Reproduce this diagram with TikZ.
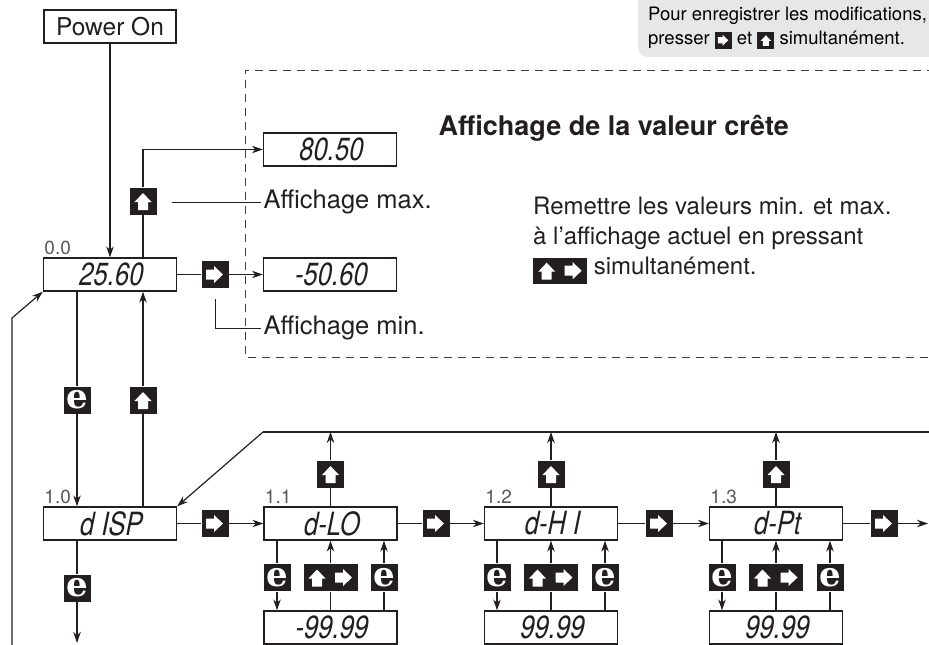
\documentclass[tikz,border=0pt]{standalone}
\usepackage{fontspec}
\setmainfont{TeX Gyre Heros}
\newfontfamily\segfont[FakeSlant=0.2,FakeStretch=0.8]{TeX Gyre Heros}
\newfontfamily\keyfont{DejaVu Serif}
\usetikzlibrary{arrows.meta, positioning, calc}

\definecolor{ink}{HTML}{231F20}
\definecolor{notegray}{HTML}{E6E7E8}

% white glyphs drawn inside the black keys (start point, x offset)
\newcommand{\upglyph}[2]{\fill[white] #1 ++(#2,0pt) ++(0pt,8pt) -- ++(8.5pt,-9pt) -- ++(-3.5pt,0pt) -- ++(0pt,-8pt) -- ++(-10pt,0pt) -- ++(0pt,8pt) -- ++(-3.5pt,0pt) -- cycle;}
\newcommand{\rightglyph}[2]{\fill[white] #1 ++(#2,0pt) ++(8pt,0pt) -- ++(-9pt,8.5pt) -- ++(0pt,-3.5pt) -- ++(-8pt,0pt) -- ++(0pt,-10pt) -- ++(8pt,0pt) -- ++(0pt,-3.5pt) -- cycle;}
% keys inside running text
\newcommand{\inkeyup}{\tikz[baseline={(0pt,-4.5pt)}]{\fill[ink] (-8.5pt,-8.5pt) rectangle (8.5pt,8.5pt); \begin{scope}[scale=0.62]\upglyph{(0pt,0pt)}{0pt}\end{scope}}}
\newcommand{\inkeyright}{\tikz[baseline={(0pt,-4.5pt)}]{\fill[ink] (-8.5pt,-8.5pt) rectangle (8.5pt,8.5pt); \begin{scope}[scale=0.62]\rightglyph{(0pt,0pt)}{0pt}\end{scope}}}
\newcommand{\inkeyboth}{\tikz[baseline={(0pt,-4pt)}]{\fill[ink] (-27pt,-13pt) rectangle (27pt,13pt); \upglyph{(0pt,0pt)}{-13.5pt}\rightglyph{(0pt,0pt)}{13.5pt}}}

\tikzset{
    key/.style={fill=ink, minimum width=27pt, minimum height=27pt, inner sep=0pt},
    keyup/.style={key, path picture={\upglyph{(path picture bounding box.center)}{0pt}}},
    keyright/.style={key, path picture={\rightglyph{(path picture bounding box.center)}{0pt}}},
    keyboth/.style={key, minimum width=54pt, path picture={%
        \upglyph{(path picture bounding box.center)}{-13.5pt}%
        \rightglyph{(path picture bounding box.center)}{13.5pt}}},
    keye/.style={key, text=white, font=\keyfont\bfseries\fontsize{34}{34}\selectfont},
}

\begin{document}
\begin{tikzpicture}[
    x=1pt, y=-1pt, color=ink, line width=1.2pt,
    disp/.style={draw, line width=1.3pt, minimum width=133pt, minimum height=33pt, inner sep=0pt, font=\segfont\fontsize{32}{32}\selectfont},
    lbl/.style={font=\fontsize{19}{19}\selectfont, text=black!65, inner sep=1pt},
    txt/.style={font=\fontsize{24}{30}\selectfont, inner sep=2pt},
    arrow/.style={-{Stealth[length=11pt, width=7.5pt]}},
    leader/.style={line width=0.9pt}
]
    \useasboundingbox (0,0) rectangle (929,645);
    \clip (0,0) rectangle (929,645);

    % Note in the corner
    \fill[notegray, rounded corners=10pt] (638,-20) rectangle (950,57);
    \node[anchor=west, align=left, inner sep=0pt, text=black, font=\fontsize{18.5}{24}\selectfont] (note) at (648,28) {Pour enregistrer les modifications,\\presser \inkeyright\ et \inkeyup\ simultanément.};

    % Peak value frame
    \draw[line width=1pt, dash pattern=on 8pt off 6pt, black!75] (935,70) -- (245,70) -- (245,357) -- (935,357);
    \node[anchor=west, inner sep=0pt, font=\bfseries\fontsize{27}{27}\selectfont] (title) at (438,128) {Affichage de la valeur crête};
    \node[txt, anchor=north west, align=left] (reset) at (531,195) {Remettre les valeurs min. et max.\\à l’affichage actuel en pressant\\\inkeyboth\ simultanément.};

    % Power on and main display
    \node[draw, line width=1.3pt, minimum width=132pt, minimum height=33pt, font=\fontsize{24.5}{24.5}\selectfont] (pwr) at (110,26.5) {Power On};
    \node[disp] (v00) at (110,274.5) {25.60};
    \node[lbl, above right=1pt and 0pt of v00.north west] (l00) {0.0};

    % Max / min
    \node[disp] (vmax) at (330,149.5) {80.50};
    \node[disp] (vmin) at (330,274.5) {-50.60};
    \node[keyup] (kmax) at (143,201) {};
    \node[keyright] (kmin) at (215,274.5) {};
    \node[txt, anchor=west, font=\fontsize{25.5}{30}\selectfont] (tmax) at (261,202) {Affichage max.};
    \node[txt, anchor=west, font=\fontsize{25.5}{30}\selectfont] (tmin) at (261,328) {Affichage min.};
    \coordinate (lmax) at (172,202);
    \coordinate (lmin) at (215,299);

    % Menu 1.0
    \node[disp] (v10) at (110,523.5) {d ISP};
    \node[lbl, above right=1pt and 0pt of v10.north west] (l10) {1.0};
    \node[keye] (e10) at (77,400) {e};
    \node[keyup] (u10) at (143,400) {};
    \node[keye] (e11) at (77,588) {e};
    \node[keyright] (r10) at (215,523.5) {};
    \coordinate (down) at (77,643);
    \coordinate (loopb) at (12,660);
    \coordinate (loopk) at (12,318);
    \coordinate (topl) at (263,432);
    \coordinate (topr) at (940,432);

    % Menu 1.1
    \node[disp] (v11) at (330.5,523.5) {d-LO};
    \node[lbl, above right=1pt and 0pt of v11.north west] (l11) {1.1};
    \node[keyup] (u11) at (330.5,474) {};
    \node[keye] (ea11) at (277,577.5) {e};
    \node[keyboth] (b11) at (330.5,577.5) {};
    \node[keye] (eb11) at (384,577.5) {e};
    \node[disp] (w11) at (330.5,627.5) {-99.99};
    \node[keyright] (r11) at (436,523.5) {};

    % Menu 1.2
    \node[disp] (v12) at (551,523.5) {d-H I};
    \node[lbl, above right=1pt and 0pt of v12.north west] (l12) {1.2};
    \node[keyup] (u12) at (551,474) {};
    \node[keye] (ea12) at (497,577.5) {e};
    \node[keyboth] (b12) at (551,577.5) {};
    \node[keye] (eb12) at (605,577.5) {e};
    \node[disp] (w12) at (551,627.5) {99.99};
    \node[keyright] (r12) at (659,523.5) {};

    % Menu 1.3
    \node[disp] (v13) at (776,523.5) {d-Pt};
    \node[lbl, above right=1pt and 0pt of v13.north west] (l13) {1.3};
    \node[keyup] (u13) at (776,474) {};
    \node[keye] (ea13) at (722,577.5) {e};
    \node[keyboth] (b13) at (776,577.5) {};
    \node[keye] (eb13) at (830,577.5) {e};
    \node[disp] (w13) at (776,627.5) {99.99};
    \node[keyright] (r13) at (884,523.5) {};
    \coordinate (next) at (928,523.5);

    % Arrows
    \draw[arrow] (pwr) -- (v00);
    \draw (v00.north -| kmax) -- (kmax);
    \draw[arrow] (kmax) |- (vmax);
    \draw (v00) -- (kmin);
    \draw[arrow] (kmin) -- (vmin);
    \draw[leader] (lmax) -- (tmax);
    \draw[leader] (lmin) |- (tmin);

    \draw (v00.south -| e10) -- (e10);
    \draw[arrow] (e10) -- (e10 |- v10.north);
    \draw (v10.north -| u10) -- (u10);
    \draw[arrow] (u10) -- (u10 |- v00.south);
    \draw (v10.south -| e11) -- (e11);
    \draw[arrow] (e11) -- (down);
    \draw[arrow] (loopb) -- (loopk) -- (v00.south west);
    \draw (topr) -- (topl);
    \draw[arrow] (topl) -- (v10.north east);
    \draw (v10) -- (r10);
    \draw[arrow] (r10) -- (v11);

    \draw (v11) -- (u11);
    \draw[arrow] (u11) -- (u11 |- topl);
    \draw (v11.south -| ea11) -- (ea11);
    \draw[arrow] (ea11) -- (ea11 |- w11.north);
    \draw (w11) -- (b11);
    \draw[arrow] (b11) -- (v11);
    \draw (w11.north -| eb11) -- (eb11);
    \draw[arrow] (eb11) -- (eb11 |- v11.south);
    \draw (v11) -- (r11);
    \draw[arrow] (r11) -- (v12);

    \draw (v12) -- (u12);
    \draw[arrow] (u12) -- (u12 |- topl);
    \draw (v12.south -| ea12) -- (ea12);
    \draw[arrow] (ea12) -- (ea12 |- w12.north);
    \draw (w12) -- (b12);
    \draw[arrow] (b12) -- (v12);
    \draw (w12.north -| eb12) -- (eb12);
    \draw[arrow] (eb12) -- (eb12 |- v12.south);
    \draw (v12) -- (r12);
    \draw[arrow] (r12) -- (v13);

    \draw (v13) -- (u13);
    \draw[arrow] (u13) -- (u13 |- topl);
    \draw (v13.south -| ea13) -- (ea13);
    \draw[arrow] (ea13) -- (ea13 |- w13.north);
    \draw (w13) -- (b13);
    \draw[arrow] (b13) -- (v13);
    \draw (w13.north -| eb13) -- (eb13);
    \draw[arrow] (eb13) -- (eb13 |- v13.south);
    \draw (v13) -- (r13);
    \draw[arrow] (r13) -- (next);

\end{tikzpicture}
\end{document}
